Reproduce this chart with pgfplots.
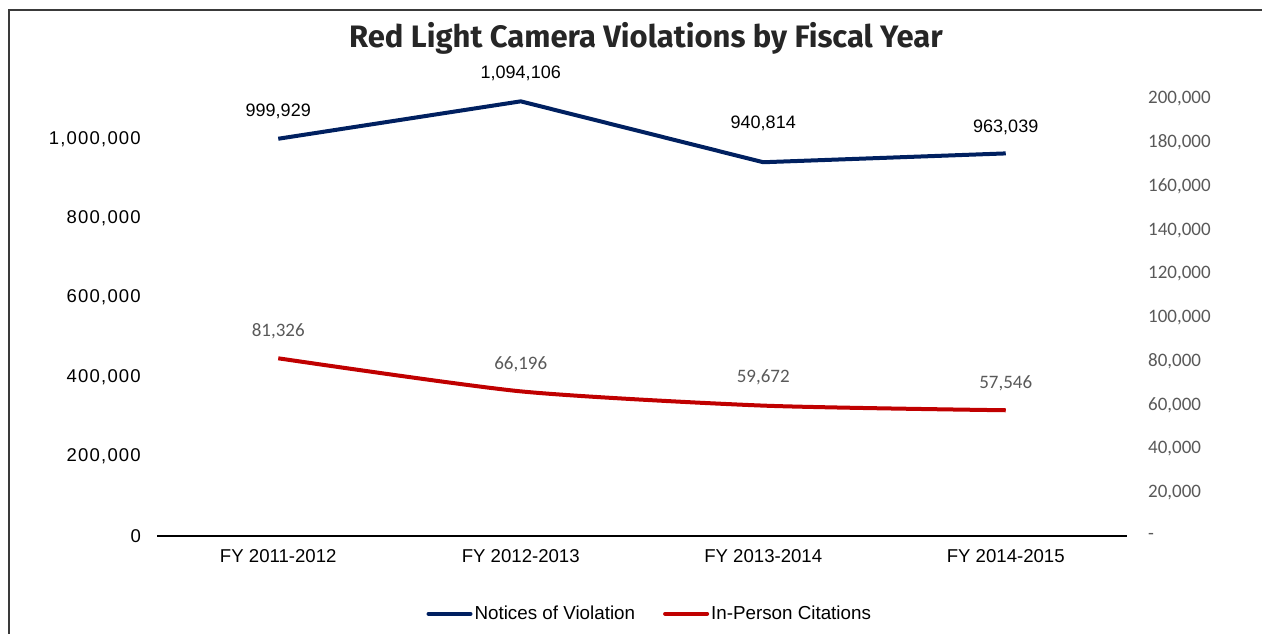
\documentclass[border=0pt]{standalone}
\usepackage{pgfplots}
\pgfplotsset{compat=1.18}
\usepackage{pgfplotstable}
\usepackage{fontspec}
\setmainfont{Liberation Sans}
\newfontfamily\calib{Carlito}
\newfontfamily\titlefont{Fira Sans}
\newfontfamily\spaced{Liberation Sans}[LetterSpace=6.5]
\definecolor{navy}{HTML}{002060}
\definecolor{dred}{HTML}{C00000}
\definecolor{gtxt}{HTML}{595959}
\definecolor{ttl}{HTML}{262626}
\definecolor{frame}{HTML}{3A3A3A}

\pgfplotstableread{
x y lab dy
0 999929 {999,929} 27
1 1094106 {1,094,106} 28
2 940814 {940,814} 39
3 963039 {963,039} 26
}\nov
\pgfplotstableread{
x y lab dy
0 81326 {81,326} 27
1 66196 {66,196} 27
2 59672 {59,672} 28
3 57546 {57,546} 27
}\ipc

\begin{document}
\begin{tikzpicture}[x=1pt,y=1pt]
\path[use as bounding box] (0,0) rectangle (1262,633);
\draw[frame, line width=2.5pt] (9,-2) -- (9,623) -- (1264,623);
\node[anchor=base, text=ttl] at (646,585) {\titlefont\fontsize{31}{34}\selectfont\bfseries Red Light Camera Violations by Fiscal Year};

\begin{axis}[
  at={(157pt,97pt)}, anchor=south west,
  width=970pt, height=437pt, scale only axis,
  xmin=-0.5, xmax=3.5, ymin=0, ymax=1100000,
  clip=false,
  axis x line*=bottom, axis y line*=left,
  x axis line style={black, line width=1.6pt, -},
  y axis line style={draw=none},
  major tick length=0pt,
  xtick={0,1,2,3},
  xticklabels={FY 2011-2012, FY 2012-2013, FY 2013-2014, FY 2014-2015},
  xticklabel style={anchor=center, yshift=-20pt, font=\fontsize{18.6}{20}\selectfont},
  ytick={0,200000,400000,600000,800000,1000000},
  yticklabels={0,{200,000},{400,000},{600,000},{800,000},{1,000,000}},
  scaled y ticks=false,
  yticklabel style={anchor=east, inner xsep=0pt, xshift=-16pt, font=\spaced\fontsize{18.5}{20}\selectfont},
  point meta=explicit symbolic,
  visualization depends on={\thisrow{dy} \as \dy},
  nodes near coords,
  nodes near coords style={anchor=center, yshift=\dy pt, font=\fontsize{18}{20}\selectfont, text=black},
]
\addplot[navy, line width=4pt, line join=round, mark=none] table[x=x, y=y, meta=lab] {\nov};
\end{axis}

\begin{axis}[
  at={(157pt,97pt)}, anchor=south west,
  width=970pt, height=437pt, scale only axis,
  xmin=-0.5, xmax=3.5, ymin=0, ymax=200000,
  clip=false,
  axis x line=none,
  axis y line*=right,
  y axis line style={draw=none},
  major tick length=0pt,
  ytick={0,20000,40000,60000,80000,100000,120000,140000,160000,180000,200000},
  yticklabels={-,{20,000},{40,000},{60,000},{80,000},{100,000},{120,000},{140,000},{160,000},{180,000},{200,000}},
  scaled y ticks=false,
  yticklabel style={anchor=west, inner xsep=0pt, xshift=21pt, text=gtxt, font=\calib\fontsize{19}{21}\selectfont},
  point meta=explicit symbolic,
  visualization depends on={\thisrow{dy} \as \dy},
  nodes near coords,
  nodes near coords style={anchor=center, yshift=\dy pt, font=\calib\fontsize{19}{21}\selectfont, text=gtxt},
  legend columns=2,
  legend style={at={(0.508,-0.178)}, anchor=center, draw=none, fill=none,
    font=\fontsize{18.8}{20}\selectfont, column sep=0pt,
    /tikz/every even column/.append style={column sep=26pt}},
  legend image code/.code={\draw[#1, line width=4pt, line cap=round] (0pt,0pt) -- (42pt,0pt);},
]
\addlegendimage{navy}
\addlegendentry{Notices of Violation}
\addplot[dred, line width=4pt, smooth, tension=0.4, mark=none, line join=round] table[x=x, y=y, meta=lab] {\ipc};
\addlegendentry{In-Person Citations}
\end{axis}
\end{tikzpicture}
\end{document}
